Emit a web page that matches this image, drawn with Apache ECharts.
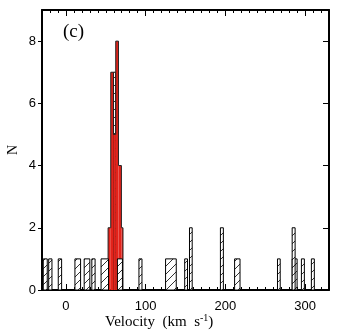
<!DOCTYPE html>
<html><head><meta charset="utf-8">
<script src="https://cdn.jsdelivr.net/npm/echarts@6/dist/echarts.min.js"></script>
<style>html,body{margin:0;padding:0;background:#fff}#c{width:345px;height:333px}</style>
</head><body><div id="c"></div>
<script>
// [start velocity, end velocity, count]
const hatchedBins = [
  [-28.4, -23.4, 1], [-21.6, -17.5, 1], [-9.6, -5.4, 1], [11.3, 18.4, 1],
  [22.9, 30.0, 1], [32.5, 36.6, 1], [44.1, 53.4, 1], [64.6, 70.9, 1],
  [91.6, 95.4, 1], [125.0, 138.4, 1], [149.0, 152.5, 1], [155.0, 158.4, 2],
  [193.8, 197.5, 2], [211.6, 218.4, 1], [265.4, 268.8, 1], [283.8, 290.0, 1],
  [283.8, 287.5, 2], [295.4, 299.1, 1], [307.9, 311.6, 1]
];
const backBins = [[59.6, 62.5, 7]];
const redBins = [
  [52.9, 56.25, 2], [56.25, 59.6, 7], [59.6, 62.5, 5],
  [62.5, 65.9, 8], [65.9, 69.6, 4], [69.6, 71.6, 2]
];
const xTickLabels = [0, 100, 200, 300];
const yTickLabels = [0, 2, 4, 6, 8];

const pc = document.createElement('canvas');
pc.width = 8; pc.height = 8;
const g = pc.getContext('2d');
g.fillStyle = '#fff'; g.fillRect(0, 0, 8, 8);
g.strokeStyle = '#333'; g.lineWidth = 1;
g.beginPath();
g.moveTo(-1, 9); g.lineTo(9, -1);
g.moveTo(-1, 1); g.lineTo(1, -1);
g.moveTo(7, 9); g.lineTo(9, 7);
g.stroke();
const hatch = { image: pc, repeat: 'repeat' };

function rectItem(fill) {
  return function (params, api) {
    const p0 = api.coord([api.value(0), api.value(2)]);
    const p1 = api.coord([api.value(1), 0]);
    return { type: 'rect',
      shape: { x: p0[0], y: p0[1], width: p1[0] - p0[0], height: p1[1] - p0[1] },
      style: { fill: fill, stroke: '#000', lineWidth: 1 } };
  };
}
function redItem(params, api) {
  const i = params.dataIndex;
  const p0 = api.coord([api.value(0), api.value(2)]);
  const p1 = api.coord([api.value(1), 0]);
  const prevH = i > 0 ? redBins[i - 1][2] : 0;
  const nextH = i < redBins.length - 1 ? redBins[i + 1][2] : 0;
  const yPrev = api.coord([0, Math.min(prevH, api.value(2))])[1];
  const yNext = api.coord([0, Math.min(nextH, api.value(2))])[1];
  return { type: 'group', children: [
    { type: 'rect', shape: { x: p0[0], y: p0[1], width: p1[0] - p0[0], height: p1[1] - p0[1] },
      style: { fill: '#e3231b', stroke: null } },
    { type: 'polyline', shape: { points: [[p0[0], yPrev], [p0[0], p0[1]], [p1[0], p0[1]], [p1[0], yNext]] },
      style: { stroke: '#222', lineWidth: 1, fill: null } }
  ] };
}

const chart = echarts.init(document.getElementById('c'), null, { renderer: 'canvas' });
const sans = 'Liberation Sans';
const serif = 'Liberation Serif';
const xBase = { type: 'value', min: -30, max: 330, splitLine: { show: false }, gridIndex: 0 };
const lineOn = { show: true, onZero: false, lineStyle: { color: '#000', width: 2 } };
chart.setOption({
  animation: false,
  grid: { left: 42, right: 16, top: 10, bottom: 43, outerBoundsMode: 'none', containLabel: false },
  title: {
    text: '{a|Velocity  (km  s}{s|-1}{a|)}', left: 100, top: 308,
    textStyle: { fontWeight: 'normal', rich: {
      a: { fontFamily: serif, fontSize: 15, fontWeight: 'normal', color: '#000' },
      s: { fontFamily: serif, fontSize: 10, fontWeight: 'normal', color: '#000', verticalAlign: 'top', padding: [0, 0, 8, 0] }
    } }
  },
  graphic: [{ type: 'text', left: 63, top: 23,
    style: { text: '(c)', font: '19px "Liberation Serif"', fill: '#000' } }],
  xAxis: [
    Object.assign({}, xBase, { position: 'bottom', interval: 10, axisLine: lineOn,
      axisTick: { show: true, inside: true, length: 3, lineStyle: { color: '#000' } },
      axisLabel: { customValues: xTickLabels, margin: 10, fontFamily: sans, fontSize: 13, color: '#000' } }),
    Object.assign({}, xBase, { position: 'bottom', interval: 10,
      axisLine: { show: false, onZero: false },
      axisTick: { show: true, inside: true, length: 6, customValues: xTickLabels, lineStyle: { color: '#000' } },
      axisLabel: { show: false } }),
    Object.assign({}, xBase, { position: 'top', interval: 10, axisLine: lineOn,
      axisTick: { show: true, inside: true, length: 3, lineStyle: { color: '#000' } },
      axisLabel: { show: false } }),
    Object.assign({}, xBase, { position: 'top', interval: 10,
      axisLine: { show: false, onZero: false },
      axisTick: { show: true, inside: true, length: 6, customValues: xTickLabels, lineStyle: { color: '#000' } },
      axisLabel: { show: false } })
  ],
  yAxis: [
    { type: 'value', position: 'left', min: 0, max: 9, interval: 1, splitLine: { show: false },
      name: 'N', nameLocation: 'middle', nameGap: 22, nameRotate: 90, nameMoveOverlap: false,
      nameTextStyle: { fontFamily: serif, fontSize: 14, color: '#000' },
      axisLine: lineOn,
      axisTick: { show: true, inside: false, length: 4, customValues: yTickLabels, lineStyle: { color: '#000' } },
      axisLabel: { customValues: yTickLabels, margin: 6, fontFamily: sans, fontSize: 13, color: '#000' } },
    { type: 'value', position: 'right', min: 0, max: 9, interval: 1, splitLine: { show: false },
      axisLine: lineOn,
      axisTick: { show: true, inside: true, length: 6, customValues: yTickLabels, lineStyle: { color: '#000' } },
      axisLabel: { show: false } }
  ],
  series: [
    { type: 'custom', xAxisIndex: 0, yAxisIndex: 0, data: backBins, renderItem: rectItem(hatch), z: 1 },
    { type: 'custom', xAxisIndex: 0, yAxisIndex: 0, data: redBins, renderItem: redItem, z: 4 },
    { type: 'custom', xAxisIndex: 0, yAxisIndex: 0, data: hatchedBins, renderItem: rectItem(hatch), z: 6 }
  ]
});
</script></body></html>
